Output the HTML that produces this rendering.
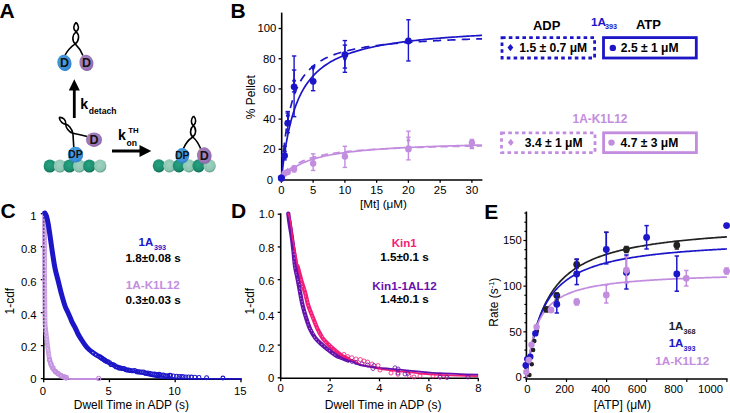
<!DOCTYPE html>
<html><head><meta charset="utf-8"><style>
html,body{margin:0;padding:0;background:#fff;}
svg{display:block;}
text{font-family:"Liberation Sans",sans-serif;}
</style></head><body>
<svg width="730" height="413" viewBox="0 0 730 413">
<defs>
<radialGradient id="gd" cx="45%" cy="40%" r="60%"><stop offset="0" stop-color="#27a282"/><stop offset="0.75" stop-color="#1a8d6e"/><stop offset="1" stop-color="#0d6a50"/></radialGradient>
<radialGradient id="gl" cx="45%" cy="40%" r="60%"><stop offset="0" stop-color="#9fd2c0"/><stop offset="0.75" stop-color="#8cc5b2"/><stop offset="1" stop-color="#5f9e8a"/></radialGradient>
<radialGradient id="gb" cx="45%" cy="40%" r="60%"><stop offset="0" stop-color="#4aa3e6"/><stop offset="0.8" stop-color="#3a8fd6"/><stop offset="1" stop-color="#2f7cc4"/></radialGradient>
<radialGradient id="gp" cx="45%" cy="40%" r="60%"><stop offset="0" stop-color="#a986c0"/><stop offset="0.8" stop-color="#9a74b4"/><stop offset="1" stop-color="#8762a2"/></radialGradient>
</defs>
<rect width="730" height="413" fill="#fff"/>
<text x="-0.5" y="17.8" font-size="21" font-weight="bold" text-anchor="start" fill="#000" >A</text>
<text x="230.6" y="17.8" font-size="21" font-weight="bold" text-anchor="start" fill="#000" >B</text>
<text x="0.4" y="218.4" font-size="21" font-weight="bold" text-anchor="start" fill="#000" >C</text>
<text x="231.0" y="218.4" font-size="21" font-weight="bold" text-anchor="start" fill="#000" >D</text>
<text x="484.3" y="218.7" font-size="21" font-weight="bold" text-anchor="start" fill="#000" >E</text>
<path d="M76.1,22.4 C73.4,25.2 72.6,29.3 76.1,31.9 C79.6,34.6 79.4,40.5 75.2,43.9 Q68.5,48.5 64.9,55.5" stroke="#000" stroke-width="1.6" fill="none" />
<path d="M76.1,22.4 C78.8,25.2 79.7,29.3 76.1,31.9 C72.3,34.6 71.6,40.5 75.2,43.9 Q80,48.5 82.9,55.5" stroke="#000" stroke-width="1.6" fill="none" />
<ellipse cx="64.4" cy="62.9" rx="7.0" ry="8.2" fill="url(#gb)" transform="rotate(-18 64.4 62.9)"/>
<text x="64.4" y="67.4" font-size="12.5" font-weight="bold" text-anchor="middle" fill="#111" >D</text>
<ellipse cx="86.4" cy="62.9" rx="7.0" ry="8.2" fill="url(#gp)" transform="rotate(-15 86.4 62.9)"/>
<text x="86.4" y="67.4" font-size="12.5" font-weight="bold" text-anchor="middle" fill="#111" >D</text>
<line x1="74.30" y1="118.00" x2="74.30" y2="89.00" stroke="#000" stroke-width="2.8" />
<path d="M68.8,90.4 L74.3,79.2 L79.8,90.4 Z" stroke="#000" stroke-width="0" fill="#000" />
<text x="80.3" y="108.6" font-size="14.2" font-weight="bold" text-anchor="start" fill="#000" >k</text>
<text x="88.8" y="113.6" font-size="8.6" font-weight="bold" text-anchor="start" fill="#000" >detach</text>
<ellipse cx="49.8" cy="166" rx="6.2" ry="6.6" fill="url(#gd)"/>
<ellipse cx="59.9" cy="166" rx="6.2" ry="6.6" fill="url(#gl)"/>
<ellipse cx="69.5" cy="166" rx="6.2" ry="6.6" fill="url(#gd)"/>
<ellipse cx="79.2" cy="166" rx="6.2" ry="6.6" fill="url(#gl)"/>
<ellipse cx="89.3" cy="166" rx="6.2" ry="6.6" fill="url(#gd)"/>
<ellipse cx="100.2" cy="166" rx="6.2" ry="6.6" fill="url(#gl)"/>
<path d="M59.2,117.4 C59.5,121.5 63.5,124.2 65.7,124.1 C68.2,124.3 71.7,128.5 72.9,133.2 L73.8,147.5" stroke="#000" stroke-width="1.6" fill="none" />
<path d="M59.2,117.4 C63.4,117 66.3,120.7 65.7,124.1 C65.6,127.2 68.8,132.2 72.9,133.2 Q80,134.4 87.2,136.4" stroke="#000" stroke-width="1.6" fill="none" />
<ellipse cx="94.0" cy="139.7" rx="8.0" ry="7.3" fill="url(#gp)" transform="rotate(0 94.0 139.7)"/>
<text x="94.0" y="144.2" font-size="12.5" font-weight="bold" text-anchor="middle" fill="#111" >D</text>
<ellipse cx="75.5" cy="154.6" rx="7.7" ry="7.9" fill="url(#gb)" transform="rotate(0 75.5 154.6)"/>
<text x="75.5" y="158.308" font-size="10.3" font-weight="bold" text-anchor="middle" fill="#111" >DP</text>
<line x1="112.00" y1="151.00" x2="141.00" y2="151.00" stroke="#000" stroke-width="3" />
<path d="M139.5,145 L151.3,151 L139.5,157 Z" stroke="#000" stroke-width="0" fill="#000" />
<text x="117.9" y="140.4" font-size="14.2" font-weight="bold" text-anchor="start" fill="#000" >k</text>
<text x="128.2" y="132.8" font-size="7.8" font-weight="bold" text-anchor="start" fill="#000" >TH</text>
<text x="126.6" y="145.5" font-size="8.6" font-weight="bold" text-anchor="start" fill="#000" >on</text>
<ellipse cx="158.9" cy="165.8" rx="6.2" ry="6.6" fill="url(#gd)"/>
<ellipse cx="169.4" cy="165.8" rx="6.2" ry="6.6" fill="url(#gl)"/>
<ellipse cx="178.9" cy="165.8" rx="6.2" ry="6.6" fill="url(#gd)"/>
<ellipse cx="189.0" cy="165.8" rx="6.2" ry="6.6" fill="url(#gl)"/>
<ellipse cx="198.6" cy="165.8" rx="6.2" ry="6.6" fill="url(#gd)"/>
<ellipse cx="209.6" cy="165.8" rx="6.2" ry="6.6" fill="url(#gl)"/>
<path d="M193.6,116 C191,118.8 190.4,123.3 193.3,125.7 C196.6,128.5 196.3,134.5 192.8,137.0 Q186.5,141 183.4,148.5" stroke="#000" stroke-width="1.6" fill="none" />
<path d="M193.6,116 C196.2,118.8 196.5,123.3 193.3,125.7 C189.9,128.5 189.6,134.5 192.8,137.0 Q197.5,141 200.7,148.8" stroke="#000" stroke-width="1.6" fill="none" />
<ellipse cx="182.3" cy="155.6" rx="7.0" ry="7.6" fill="url(#gb)" transform="rotate(0 182.3 155.6)"/>
<text x="182.3" y="159.308" font-size="10.3" font-weight="bold" text-anchor="middle" fill="#111" >DP</text>
<ellipse cx="204.3" cy="155.6" rx="7.3" ry="8.3" fill="url(#gp)" transform="rotate(-12 204.3 155.6)"/>
<text x="204.3" y="160.1" font-size="12.5" font-weight="bold" text-anchor="middle" fill="#111" >D</text>
<line x1="281.70" y1="12.60" x2="281.70" y2="180.80" stroke="#000" stroke-width="1.6" />
<line x1="280.50" y1="180.00" x2="482.40" y2="180.00" stroke="#000" stroke-width="1.6" />
<line x1="278.60" y1="179.50" x2="281.70" y2="179.50" stroke="#000" stroke-width="1.3" />
<text x="273.0" y="183.6" font-size="11.3" text-anchor="end" fill="#000" >0</text>
<line x1="278.60" y1="149.30" x2="281.70" y2="149.30" stroke="#000" stroke-width="1.3" />
<text x="275.5" y="153.4" font-size="11.3" text-anchor="end" fill="#000" >20</text>
<line x1="278.60" y1="119.10" x2="281.70" y2="119.10" stroke="#000" stroke-width="1.3" />
<text x="275.5" y="123.19999999999999" font-size="11.3" text-anchor="end" fill="#000" >40</text>
<line x1="278.60" y1="88.90" x2="281.70" y2="88.90" stroke="#000" stroke-width="1.3" />
<text x="275.5" y="93.0" font-size="11.3" text-anchor="end" fill="#000" >60</text>
<line x1="278.60" y1="58.70" x2="281.70" y2="58.70" stroke="#000" stroke-width="1.3" />
<text x="275.5" y="62.800000000000004" font-size="11.3" text-anchor="end" fill="#000" >80</text>
<line x1="278.60" y1="28.50" x2="281.70" y2="28.50" stroke="#000" stroke-width="1.3" />
<text x="276.4" y="31.5" font-size="11.3" text-anchor="end" fill="#000" >100</text>
<line x1="281.40" y1="180.00" x2="281.40" y2="182.80" stroke="#000" stroke-width="1.3" />
<text x="281.4" y="193.7" font-size="11.3" text-anchor="middle" fill="#000" >0</text>
<line x1="313.15" y1="180.00" x2="313.15" y2="182.80" stroke="#000" stroke-width="1.3" />
<text x="313.15" y="193.7" font-size="11.3" text-anchor="middle" fill="#000" >5</text>
<line x1="344.90" y1="180.00" x2="344.90" y2="182.80" stroke="#000" stroke-width="1.3" />
<text x="344.9" y="193.7" font-size="11.3" text-anchor="middle" fill="#000" >10</text>
<line x1="376.65" y1="180.00" x2="376.65" y2="182.80" stroke="#000" stroke-width="1.3" />
<text x="376.65" y="193.7" font-size="11.3" text-anchor="middle" fill="#000" >15</text>
<line x1="408.40" y1="180.00" x2="408.40" y2="182.80" stroke="#000" stroke-width="1.3" />
<text x="408.4" y="193.7" font-size="11.3" text-anchor="middle" fill="#000" >20</text>
<line x1="440.15" y1="180.00" x2="440.15" y2="182.80" stroke="#000" stroke-width="1.3" />
<text x="440.15" y="193.7" font-size="11.3" text-anchor="middle" fill="#000" >25</text>
<line x1="471.90" y1="180.00" x2="471.90" y2="182.80" stroke="#000" stroke-width="1.3" />
<text x="471.9" y="193.7" font-size="11.3" text-anchor="middle" fill="#000" >30</text>
<text x="383.4" y="208.4" font-size="11.7" text-anchor="middle" fill="#000" >[Mt] (μM)</text>
<text x="0" y="0" font-size="12" text-anchor="middle" fill="#000" transform="translate(254.6,97.2) rotate(-90)">% Pellet</text>
<path d="M281.40,179.50 L283.07,164.68 L284.74,152.44 L286.42,142.15 L288.09,133.40 L289.76,125.85 L291.43,119.27 L293.11,113.49 L294.78,108.37 L296.45,103.81 L298.12,99.72 L299.79,96.02 L301.47,92.67 L303.14,89.61 L304.81,86.82 L306.48,84.25 L308.15,81.89 L309.83,79.70 L311.50,77.68 L313.17,75.79 L314.84,74.03 L316.52,72.39 L318.19,70.85 L319.86,69.41 L321.53,68.05 L323.20,66.78 L324.88,65.57 L326.55,64.43 L328.22,63.35 L329.89,62.33 L331.56,61.36 L333.24,60.43 L334.91,59.55 L336.58,58.72 L338.25,57.92 L339.93,57.16 L341.60,56.43 L343.27,55.73 L344.94,55.06 L346.61,54.42 L348.29,53.80 L349.96,53.21 L351.63,52.64 L353.30,52.10 L354.98,51.57 L356.65,51.07 L358.32,50.58 L359.99,50.11 L361.66,49.65 L363.34,49.21 L365.01,48.79 L366.68,48.38 L368.35,47.98 L370.02,47.60 L371.70,47.23 L373.37,46.86 L375.04,46.51 L376.71,46.18 L378.39,45.85 L380.06,45.53 L381.73,45.22 L383.40,44.92 L385.07,44.62 L386.75,44.34 L388.42,44.06 L390.09,43.79 L391.76,43.53 L393.44,43.27 L395.11,43.02 L396.78,42.78 L398.45,42.54 L400.12,42.31 L401.80,42.09 L403.47,41.87 L405.14,41.65 L406.81,41.45 L408.48,41.24 L410.16,41.04 L411.83,40.85 L413.50,40.66 L415.17,40.47 L416.85,40.29 L418.52,40.11 L420.19,39.93 L421.86,39.76 L423.53,39.60 L425.21,39.43 L426.88,39.27 L428.55,39.12 L430.22,38.96 L431.89,38.81 L433.57,38.66 L435.24,38.52 L436.91,38.38 L438.58,38.24 L440.26,38.10 L441.93,37.97 L443.60,37.84 L445.27,37.71 L446.94,37.58 L448.62,37.46 L450.29,37.33 L451.96,37.21 L453.63,37.10 L455.31,36.98 L456.98,36.87 L458.65,36.75 L460.32,36.64 L461.99,36.54 L463.67,36.43 L465.34,36.33 L467.01,36.22 L468.68,36.12 L470.35,36.02 L472.03,35.93 L473.70,35.83 L475.37,35.74 L477.04,35.64 L478.72,35.55 L480.39,35.46 L482.06,35.37" stroke="#1c16c8" stroke-width="1.7" fill="none" />
<path d="M281.40,179.50 L283.07,157.49 L284.74,141.20 L286.42,128.66 L288.09,118.70 L289.76,110.61 L291.43,103.90 L293.11,98.24 L294.78,93.42 L296.45,89.25 L298.12,85.61 L299.79,82.40 L301.47,79.56 L303.14,77.03 L304.81,74.75 L306.48,72.69 L308.15,70.82 L309.83,69.11 L311.50,67.55 L313.17,66.12 L314.84,64.79 L316.52,63.57 L318.19,62.43 L319.86,61.38 L321.53,60.39 L323.20,59.47 L324.88,58.61 L326.55,57.80 L328.22,57.04 L329.89,56.32 L331.56,55.64 L333.24,55.00 L334.91,54.39 L336.58,53.82 L338.25,53.27 L339.93,52.75 L341.60,52.26 L343.27,51.79 L344.94,51.34 L346.61,50.91 L348.29,50.49 L349.96,50.10 L351.63,49.72 L353.30,49.36 L354.98,49.02 L356.65,48.68 L358.32,48.36 L359.99,48.05 L361.66,47.76 L363.34,47.47 L365.01,47.20 L366.68,46.93 L368.35,46.67 L370.02,46.43 L371.70,46.19 L373.37,45.95 L375.04,45.73 L376.71,45.51 L378.39,45.30 L380.06,45.10 L381.73,44.90 L383.40,44.71 L385.07,44.52 L386.75,44.34 L388.42,44.17 L390.09,44.00 L391.76,43.83 L393.44,43.67 L395.11,43.52 L396.78,43.36 L398.45,43.21 L400.12,43.07 L401.80,42.93 L403.47,42.79 L405.14,42.66 L406.81,42.53 L408.48,42.40 L410.16,42.28 L411.83,42.15 L413.50,42.04 L415.17,41.92 L416.85,41.81 L418.52,41.70 L420.19,41.59 L421.86,41.48 L423.53,41.38 L425.21,41.28 L426.88,41.18 L428.55,41.08 L430.22,40.99 L431.89,40.90 L433.57,40.81 L435.24,40.72 L436.91,40.63 L438.58,40.54 L440.26,40.46 L441.93,40.38 L443.60,40.30 L445.27,40.22 L446.94,40.14 L448.62,40.07 L450.29,39.99 L451.96,39.92 L453.63,39.85 L455.31,39.78 L456.98,39.71 L458.65,39.64 L460.32,39.57 L461.99,39.51 L463.67,39.44 L465.34,39.38 L467.01,39.32 L468.68,39.26 L470.35,39.20 L472.03,39.14 L473.70,39.08 L475.37,39.02 L477.04,38.97 L478.72,38.91 L480.39,38.86 L482.06,38.80" stroke="#1c16c8" stroke-width="1.7" fill="none" stroke-dasharray="8.2,6.2"/>
<path d="M281.40,179.50 L283.07,177.40 L284.74,175.51 L286.42,173.81 L288.09,172.26 L289.76,170.84 L291.43,169.55 L293.11,168.35 L294.78,167.26 L296.45,166.24 L298.12,165.29 L299.79,164.41 L301.47,163.59 L303.14,162.83 L304.81,162.11 L306.48,161.43 L308.15,160.80 L309.83,160.20 L311.50,159.64 L313.17,159.10 L314.84,158.59 L316.52,158.11 L318.19,157.66 L319.86,157.22 L321.53,156.81 L323.20,156.42 L324.88,156.04 L326.55,155.68 L328.22,155.34 L329.89,155.01 L331.56,154.70 L333.24,154.39 L334.91,154.10 L336.58,153.82 L338.25,153.56 L339.93,153.30 L341.60,153.05 L343.27,152.81 L344.94,152.58 L346.61,152.36 L348.29,152.14 L349.96,151.94 L351.63,151.74 L353.30,151.54 L354.98,151.35 L356.65,151.17 L358.32,151.00 L359.99,150.83 L361.66,150.66 L363.34,150.50 L365.01,150.35 L366.68,150.19 L368.35,150.05 L370.02,149.90 L371.70,149.77 L373.37,149.63 L375.04,149.50 L376.71,149.37 L378.39,149.25 L380.06,149.13 L381.73,149.01 L383.40,148.89 L385.07,148.78 L386.75,148.67 L388.42,148.57 L390.09,148.46 L391.76,148.36 L393.44,148.26 L395.11,148.16 L396.78,148.07 L398.45,147.98 L400.12,147.89 L401.80,147.80 L403.47,147.71 L405.14,147.63 L406.81,147.54 L408.48,147.46 L410.16,147.38 L411.83,147.30 L413.50,147.23 L415.17,147.15 L416.85,147.08 L418.52,147.01 L420.19,146.94 L421.86,146.87 L423.53,146.80 L425.21,146.74 L426.88,146.67 L428.55,146.61 L430.22,146.55 L431.89,146.49 L433.57,146.43 L435.24,146.37 L436.91,146.31 L438.58,146.25 L440.26,146.20 L441.93,146.14 L443.60,146.09 L445.27,146.03 L446.94,145.98 L448.62,145.93 L450.29,145.88 L451.96,145.83 L453.63,145.78 L455.31,145.73 L456.98,145.69 L458.65,145.64 L460.32,145.59 L461.99,145.55 L463.67,145.50 L465.34,145.46 L467.01,145.42 L468.68,145.38 L470.35,145.33 L472.03,145.29 L473.70,145.25 L475.37,145.21 L477.04,145.17 L478.72,145.14 L480.39,145.10 L482.06,145.06" stroke="#c38ddf" stroke-width="1.7" fill="none" />
<path d="M281.40,179.50 L283.07,176.83 L284.74,174.52 L286.42,172.50 L288.09,170.71 L289.76,169.13 L291.43,167.71 L293.11,166.44 L294.78,165.29 L296.45,164.24 L298.12,163.29 L299.79,162.41 L301.47,161.61 L303.14,160.86 L304.81,160.18 L306.48,159.54 L308.15,158.94 L309.83,158.39 L311.50,157.87 L313.17,157.38 L314.84,156.93 L316.52,156.50 L318.19,156.09 L319.86,155.71 L321.53,155.35 L323.20,155.00 L324.88,154.68 L326.55,154.37 L328.22,154.08 L329.89,153.80 L331.56,153.53 L333.24,153.28 L334.91,153.03 L336.58,152.80 L338.25,152.58 L339.93,152.36 L341.60,152.16 L343.27,151.96 L344.94,151.77 L346.61,151.59 L348.29,151.42 L349.96,151.25 L351.63,151.09 L353.30,150.93 L354.98,150.78 L356.65,150.64 L358.32,150.50 L359.99,150.36 L361.66,150.23 L363.34,150.10 L365.01,149.98 L366.68,149.86 L368.35,149.74 L370.02,149.63 L371.70,149.52 L373.37,149.42 L375.04,149.31 L376.71,149.21 L378.39,149.12 L380.06,149.02 L381.73,148.93 L383.40,148.84 L385.07,148.76 L386.75,148.67 L388.42,148.59 L390.09,148.51 L391.76,148.43 L393.44,148.36 L395.11,148.28 L396.78,148.21 L398.45,148.14 L400.12,148.07 L401.80,148.00 L403.47,147.94 L405.14,147.87 L406.81,147.81 L408.48,147.75 L410.16,147.69 L411.83,147.63 L413.50,147.57 L415.17,147.52 L416.85,147.46 L418.52,147.41 L420.19,147.35 L421.86,147.30 L423.53,147.25 L425.21,147.20 L426.88,147.15 L428.55,147.11 L430.22,147.06 L431.89,147.01 L433.57,146.97 L435.24,146.93 L436.91,146.88 L438.58,146.84 L440.26,146.80 L441.93,146.76 L443.60,146.72 L445.27,146.68 L446.94,146.64 L448.62,146.60 L450.29,146.56 L451.96,146.53 L453.63,146.49 L455.31,146.46 L456.98,146.42 L458.65,146.39 L460.32,146.35 L461.99,146.32 L463.67,146.29 L465.34,146.26 L467.01,146.22 L468.68,146.19 L470.35,146.16 L472.03,146.13 L473.70,146.10 L475.37,146.07 L477.04,146.05 L478.72,146.02 L480.39,145.99 L482.06,145.96" stroke="#c38ddf" stroke-width="1.7" fill="none" stroke-dasharray="7,5"/>
<circle cx="281.40" cy="177.99" r="3.4" fill="#1c16c8"/>
<line x1="284.57" y1="151.56" x2="284.57" y2="159.87" stroke="#1c16c8" stroke-width="1.4" />
<line x1="282.38" y1="151.56" x2="286.77" y2="151.56" stroke="#1c16c8" stroke-width="1.4" />
<line x1="282.38" y1="159.87" x2="286.77" y2="159.87" stroke="#1c16c8" stroke-width="1.4" />
<circle cx="284.57" cy="155.64" r="3.4" fill="#1c16c8"/>
<line x1="287.75" y1="111.55" x2="287.75" y2="132.69" stroke="#1c16c8" stroke-width="1.4" />
<line x1="285.55" y1="111.55" x2="289.95" y2="111.55" stroke="#1c16c8" stroke-width="1.4" />
<line x1="285.55" y1="132.69" x2="289.95" y2="132.69" stroke="#1c16c8" stroke-width="1.4" />
<circle cx="287.75" cy="123.18" r="3.4" fill="#1c16c8"/>
<line x1="294.10" y1="55.98" x2="294.10" y2="116.68" stroke="#1c16c8" stroke-width="1.4" />
<line x1="291.90" y1="55.98" x2="296.30" y2="55.98" stroke="#1c16c8" stroke-width="1.4" />
<line x1="291.90" y1="116.68" x2="296.30" y2="116.68" stroke="#1c16c8" stroke-width="1.4" />
<circle cx="294.10" cy="86.79" r="3.4" fill="#1c16c8"/>
<line x1="313.15" y1="66.55" x2="313.15" y2="90.71" stroke="#1c16c8" stroke-width="1.4" />
<line x1="310.95" y1="66.55" x2="315.35" y2="66.55" stroke="#1c16c8" stroke-width="1.4" />
<line x1="310.95" y1="90.71" x2="315.35" y2="90.71" stroke="#1c16c8" stroke-width="1.4" />
<circle cx="313.15" cy="81.35" r="3.4" fill="#1c16c8"/>
<line x1="344.90" y1="40.58" x2="344.90" y2="72.29" stroke="#1c16c8" stroke-width="1.4" />
<line x1="342.70" y1="40.58" x2="347.10" y2="40.58" stroke="#1c16c8" stroke-width="1.4" />
<line x1="342.70" y1="72.29" x2="347.10" y2="72.29" stroke="#1c16c8" stroke-width="1.4" />
<circle cx="344.90" cy="54.77" r="3.4" fill="#1c16c8"/>
<line x1="408.40" y1="19.74" x2="408.40" y2="60.97" stroke="#1c16c8" stroke-width="1.4" />
<line x1="406.20" y1="19.74" x2="410.60" y2="19.74" stroke="#1c16c8" stroke-width="1.4" />
<line x1="406.20" y1="60.97" x2="410.60" y2="60.97" stroke="#1c16c8" stroke-width="1.4" />
<circle cx="408.40" cy="40.88" r="3.4" fill="#1c16c8"/>
<line x1="284.57" y1="146.28" x2="284.57" y2="153.83" stroke="#1c16c8" stroke-width="1.4" />
<line x1="282.38" y1="146.28" x2="286.77" y2="146.28" stroke="#1c16c8" stroke-width="1.4" />
<line x1="282.38" y1="153.83" x2="286.77" y2="153.83" stroke="#1c16c8" stroke-width="1.4" />
<path d="M284.57,146.94 L286.65,150.06 L284.57,153.18 L282.50,150.06 Z" fill="#1c16c8"/>
<line x1="287.75" y1="113.06" x2="287.75" y2="122.12" stroke="#1c16c8" stroke-width="1.4" />
<line x1="285.55" y1="113.06" x2="289.95" y2="113.06" stroke="#1c16c8" stroke-width="1.4" />
<line x1="285.55" y1="122.12" x2="289.95" y2="122.12" stroke="#1c16c8" stroke-width="1.4" />
<path d="M287.75,112.51 L289.83,115.63 L287.75,118.75 L285.67,115.63 Z" fill="#1c16c8"/>
<line x1="294.10" y1="70.03" x2="294.10" y2="91.92" stroke="#1c16c8" stroke-width="1.4" />
<line x1="291.90" y1="70.03" x2="296.30" y2="70.03" stroke="#1c16c8" stroke-width="1.4" />
<line x1="291.90" y1="91.92" x2="296.30" y2="91.92" stroke="#1c16c8" stroke-width="1.4" />
<path d="M294.10,77.63 L296.18,80.75 L294.10,83.87 L292.02,80.75 Z" fill="#1c16c8"/>
<path d="M313.15,64.64 L315.23,67.76 L313.15,70.88 L311.07,67.76 Z" fill="#1c16c8"/>
<line x1="344.90" y1="45.11" x2="344.90" y2="68.06" stroke="#1c16c8" stroke-width="1.4" />
<line x1="342.70" y1="45.11" x2="347.10" y2="45.11" stroke="#1c16c8" stroke-width="1.4" />
<line x1="342.70" y1="68.06" x2="347.10" y2="68.06" stroke="#1c16c8" stroke-width="1.4" />
<path d="M344.90,55.58 L346.98,58.70 L344.90,61.82 L342.82,58.70 Z" fill="#1c16c8"/>
<path d="M408.40,38.97 L410.48,42.09 L408.40,45.21 L406.32,42.09 Z" fill="#1c16c8"/>
<circle cx="281.40" cy="177.99" r="3.2" fill="#c38ddf"/>
<circle cx="284.57" cy="173.46" r="3.2" fill="#c38ddf"/>
<circle cx="287.75" cy="171.95" r="3.2" fill="#c38ddf"/>
<line x1="294.10" y1="165.91" x2="294.10" y2="171.95" stroke="#c38ddf" stroke-width="1.4" />
<line x1="291.90" y1="165.91" x2="296.30" y2="165.91" stroke="#c38ddf" stroke-width="1.4" />
<line x1="291.90" y1="171.95" x2="296.30" y2="171.95" stroke="#c38ddf" stroke-width="1.4" />
<circle cx="294.10" cy="168.93" r="3.2" fill="#c38ddf"/>
<line x1="313.15" y1="153.83" x2="313.15" y2="170.44" stroke="#c38ddf" stroke-width="1.4" />
<line x1="310.95" y1="153.83" x2="315.35" y2="153.83" stroke="#c38ddf" stroke-width="1.4" />
<line x1="310.95" y1="170.44" x2="315.35" y2="170.44" stroke="#c38ddf" stroke-width="1.4" />
<circle cx="313.15" cy="163.49" r="3.2" fill="#c38ddf"/>
<line x1="344.90" y1="146.28" x2="344.90" y2="167.42" stroke="#c38ddf" stroke-width="1.4" />
<line x1="342.70" y1="146.28" x2="347.10" y2="146.28" stroke="#c38ddf" stroke-width="1.4" />
<line x1="342.70" y1="167.42" x2="347.10" y2="167.42" stroke="#c38ddf" stroke-width="1.4" />
<circle cx="344.90" cy="156.55" r="3.2" fill="#c38ddf"/>
<line x1="408.40" y1="131.18" x2="408.40" y2="159.87" stroke="#c38ddf" stroke-width="1.4" />
<line x1="406.20" y1="131.18" x2="410.60" y2="131.18" stroke="#c38ddf" stroke-width="1.4" />
<line x1="406.20" y1="159.87" x2="410.60" y2="159.87" stroke="#c38ddf" stroke-width="1.4" />
<circle cx="408.40" cy="149.15" r="3.2" fill="#c38ddf"/>
<line x1="471.90" y1="139.49" x2="471.90" y2="148.54" stroke="#c38ddf" stroke-width="1.4" />
<line x1="469.70" y1="139.49" x2="474.10" y2="139.49" stroke="#c38ddf" stroke-width="1.4" />
<line x1="469.70" y1="148.54" x2="474.10" y2="148.54" stroke="#c38ddf" stroke-width="1.4" />
<circle cx="471.90" cy="142.81" r="3.2" fill="#c38ddf"/>
<path d="M284.57,169.71 L286.57,172.71 L284.57,175.71 L282.57,172.71 Z" fill="#c38ddf"/>
<path d="M287.75,167.44 L289.75,170.44 L287.75,173.44 L285.75,170.44 Z" fill="#c38ddf"/>
<path d="M294.10,164.42 L296.10,167.42 L294.10,170.42 L292.10,167.42 Z" fill="#c38ddf"/>
<path d="M313.15,156.42 L315.15,159.42 L313.15,162.42 L311.15,159.42 Z" fill="#c38ddf"/>
<path d="M344.90,150.83 L346.90,153.83 L344.90,156.83 L342.90,153.83 Z" fill="#c38ddf"/>
<line x1="408.40" y1="137.22" x2="408.40" y2="146.28" stroke="#c38ddf" stroke-width="1.4" />
<line x1="406.20" y1="137.22" x2="410.60" y2="137.22" stroke="#c38ddf" stroke-width="1.4" />
<line x1="406.20" y1="146.28" x2="410.60" y2="146.28" stroke="#c38ddf" stroke-width="1.4" />
<path d="M408.40,137.24 L410.40,140.24 L408.40,143.24 L406.40,140.24 Z" fill="#c38ddf"/>
<line x1="471.90" y1="141.75" x2="471.90" y2="147.79" stroke="#c38ddf" stroke-width="1.4" />
<line x1="469.70" y1="141.75" x2="474.10" y2="141.75" stroke="#c38ddf" stroke-width="1.4" />
<line x1="469.70" y1="147.79" x2="474.10" y2="147.79" stroke="#c38ddf" stroke-width="1.4" />
<path d="M471.90,142.68 L473.90,145.68 L471.90,148.68 L469.90,145.68 Z" fill="#c38ddf"/>
<circle cx="281.40" cy="177.99" r="3.6" fill="#1c16c8"/>
<text x="546.7" y="29.5" font-size="13" font-weight="bold" text-anchor="middle" fill="#000" >ADP</text>
<text x="648.4" y="29.3" font-size="13" font-weight="bold" text-anchor="middle" fill="#000" >ATP</text>
<text x="590.9" y="25.8" font-size="11.8" font-weight="bold" text-anchor="start" fill="#1c16c8" >1A</text>
<text x="605.0" y="28.9" font-size="7.2" font-weight="bold" text-anchor="start" fill="#1c16c8" >393</text>
<rect x="502" y="37.6" width="92.6" height="20.4" fill="none" stroke="#1c16c8" stroke-width="2.8" stroke-dasharray="3.6,3.2"/>
<rect x="603.5" y="37.6" width="92.8" height="20.4" fill="none" stroke="#1c16c8" stroke-width="2.8"/>
<path d="M510.4,43.9 L513.3,47.6 L510.4,51.3 L507.5,47.6 Z" fill="#1c16c8"/>
<text x="519.3" y="51.8" font-size="12.1" font-weight="bold" text-anchor="start" fill="#000" >1.5 ± 0.7 μM</text>
<circle cx="612.80" cy="47.90" r="3.2" fill="#1c16c8"/>
<text x="620.8" y="51.9" font-size="12.1" font-weight="bold" text-anchor="start" fill="#000" >2.5 ± 1 μM</text>
<text x="600" y="122.8" font-size="11.9" font-weight="bold" text-anchor="middle" fill="#c38ddf" >1A-K1L12</text>
<rect x="501.5" y="132.8" width="93.5" height="19.8" fill="none" stroke="#c38ddf" stroke-width="2.8" stroke-dasharray="3.6,3.2"/>
<rect x="603.6" y="132.8" width="92.8" height="19.8" fill="none" stroke="#c38ddf" stroke-width="2.8"/>
<path d="M510.8,138.7 L513.7,142.4 L510.8,146.1 L507.9,142.4 Z" fill="#c38ddf"/>
<text x="524.8" y="146.6" font-size="12.1" font-weight="bold" text-anchor="start" fill="#000" >3.4 ± 1 μM</text>
<circle cx="611.50" cy="142.60" r="3.2" fill="#c38ddf"/>
<text x="620.6" y="146.6" font-size="12.1" font-weight="bold" text-anchor="start" fill="#000" >4.7 ± 3 μM</text>
<line x1="43.80" y1="212.80" x2="43.80" y2="379.90" stroke="#000" stroke-width="1.6" />
<line x1="43.00" y1="379.10" x2="241.80" y2="379.10" stroke="#000" stroke-width="1.6" />
<line x1="40.80" y1="378.60" x2="43.80" y2="378.60" stroke="#000" stroke-width="1.3" />
<text x="36.6" y="383.25" font-size="11.3" text-anchor="end" fill="#000" >0</text>
<line x1="40.80" y1="345.62" x2="43.80" y2="345.62" stroke="#000" stroke-width="1.3" />
<text x="36.6" y="351.15000000000003" font-size="11.3" text-anchor="end" fill="#000" >0.2</text>
<line x1="40.80" y1="312.64" x2="43.80" y2="312.64" stroke="#000" stroke-width="1.3" />
<text x="36.6" y="318.85" font-size="11.3" text-anchor="end" fill="#000" >0.4</text>
<line x1="40.80" y1="279.66" x2="43.80" y2="279.66" stroke="#000" stroke-width="1.3" />
<text x="36.6" y="286.35" font-size="11.3" text-anchor="end" fill="#000" >0.6</text>
<line x1="40.80" y1="246.68" x2="43.80" y2="246.68" stroke="#000" stroke-width="1.3" />
<text x="36.6" y="252.85000000000002" font-size="11.3" text-anchor="end" fill="#000" >0.8</text>
<line x1="40.80" y1="213.70" x2="43.80" y2="213.70" stroke="#000" stroke-width="1.3" />
<text x="36.6" y="219.75" font-size="11.3" text-anchor="end" fill="#000" >1</text>
<line x1="43.70" y1="379.10" x2="43.70" y2="382.20" stroke="#000" stroke-width="1.3" />
<text x="43.0" y="395.0" font-size="11.3" text-anchor="middle" fill="#000" >0</text>
<line x1="109.45" y1="379.10" x2="109.45" y2="382.20" stroke="#000" stroke-width="1.3" />
<text x="108.75" y="395.0" font-size="11.3" text-anchor="middle" fill="#000" >5</text>
<line x1="175.20" y1="379.10" x2="175.20" y2="382.20" stroke="#000" stroke-width="1.3" />
<text x="174.5" y="395.0" font-size="11.3" text-anchor="middle" fill="#000" >10</text>
<line x1="240.95" y1="379.10" x2="240.95" y2="382.20" stroke="#000" stroke-width="1.3" />
<text x="240.25" y="395.0" font-size="11.3" text-anchor="middle" fill="#000" >15</text>
<text x="131.4" y="409.4" font-size="11.95" text-anchor="middle" fill="#000" >Dwell Time in ADP (s)</text>
<text x="0" y="0" font-size="12" text-anchor="middle" fill="#000" transform="translate(13.9,301.2) rotate(-90)">1-cdf</text>
<path d="M44.50,213.20 C44.52,224.33 44.52,262.20 44.60,280.00 C44.68,297.80 44.82,311.67 45.00,320.00 C45.18,328.33 45.32,326.12 45.70,330.00 C46.08,333.88 46.75,338.85 47.30,343.30 C47.85,347.75 48.47,353.50 49.00,356.70 C49.53,359.90 50.00,360.73 50.50,362.50 C51.00,364.27 51.33,365.88 52.00,367.30 C52.67,368.72 53.67,370.02 54.50,371.00 C55.33,371.98 56.17,372.57 57.00,373.20 C57.83,373.83 58.58,374.23 59.50,374.80 C60.42,375.37 61.42,376.03 62.50,376.60 C63.58,377.17 65.42,377.93 66.00,378.20" stroke="#c9a0e3" stroke-width="4.8" fill="none" stroke-linejoin="round" stroke-linecap="round"/>
<path d="M62.50,376.60 L66.00,378.20 L70.00,379.00 L98.70,379.00" stroke="#c38ddf" stroke-width="1.8" fill="none" />
<circle cx="49.5" cy="360" r="2.1" fill="none" stroke="#c38ddf" stroke-width="1.1"/>
<circle cx="51" cy="364" r="2.1" fill="none" stroke="#c38ddf" stroke-width="1.1"/>
<circle cx="53" cy="368" r="2.1" fill="none" stroke="#c38ddf" stroke-width="1.1"/>
<circle cx="55.5" cy="371.5" r="2.1" fill="none" stroke="#c38ddf" stroke-width="1.1"/>
<circle cx="58" cy="373.5" r="2.1" fill="none" stroke="#c38ddf" stroke-width="1.1"/>
<circle cx="61" cy="375.5" r="2.1" fill="none" stroke="#c38ddf" stroke-width="1.1"/>
<circle cx="64" cy="376.7" r="2.1" fill="none" stroke="#c38ddf" stroke-width="1.1"/>
<circle cx="66.3" cy="377.5" r="2.1" fill="none" stroke="#c38ddf" stroke-width="1.1"/>
<circle cx="98.7" cy="378.4" r="2.1" fill="none" stroke="#c38ddf" stroke-width="1.1"/>
<circle cx="45.35" cy="216.06" r="0.6" fill="#fff" opacity="0.6"/>
<circle cx="45.82" cy="218.97" r="0.6" fill="#fff" opacity="0.6"/>
<circle cx="45.41" cy="222.09" r="0.6" fill="#fff" opacity="0.6"/>
<circle cx="45.08" cy="225.01" r="0.6" fill="#fff" opacity="0.6"/>
<circle cx="45.53" cy="228.29" r="0.6" fill="#fff" opacity="0.6"/>
<circle cx="44.99" cy="230.80" r="0.6" fill="#fff" opacity="0.6"/>
<circle cx="44.99" cy="234.31" r="0.6" fill="#fff" opacity="0.6"/>
<circle cx="45.59" cy="236.54" r="0.6" fill="#fff" opacity="0.6"/>
<circle cx="45.88" cy="240.46" r="0.6" fill="#fff" opacity="0.6"/>
<circle cx="45.55" cy="243.12" r="0.6" fill="#fff" opacity="0.6"/>
<circle cx="45.06" cy="245.52" r="0.6" fill="#fff" opacity="0.6"/>
<circle cx="45.43" cy="248.56" r="0.6" fill="#fff" opacity="0.6"/>
<circle cx="45.09" cy="251.74" r="0.6" fill="#fff" opacity="0.6"/>
<circle cx="44.93" cy="254.96" r="0.6" fill="#fff" opacity="0.6"/>
<circle cx="45.34" cy="258.34" r="0.6" fill="#fff" opacity="0.6"/>
<circle cx="45.42" cy="261.14" r="0.6" fill="#fff" opacity="0.6"/>
<circle cx="45.40" cy="264.16" r="0.6" fill="#fff" opacity="0.6"/>
<circle cx="45.36" cy="266.78" r="0.6" fill="#fff" opacity="0.6"/>
<circle cx="45.90" cy="270.50" r="0.6" fill="#fff" opacity="0.6"/>
<circle cx="45.74" cy="273.21" r="0.6" fill="#fff" opacity="0.6"/>
<circle cx="45.22" cy="275.73" r="0.6" fill="#fff" opacity="0.6"/>
<circle cx="45.19" cy="278.57" r="0.6" fill="#fff" opacity="0.6"/>
<circle cx="45.67" cy="281.90" r="0.6" fill="#fff" opacity="0.6"/>
<circle cx="45.75" cy="284.89" r="0.6" fill="#fff" opacity="0.6"/>
<circle cx="45.86" cy="288.35" r="0.6" fill="#fff" opacity="0.6"/>
<circle cx="44.90" cy="290.71" r="0.6" fill="#fff" opacity="0.6"/>
<circle cx="45.81" cy="293.97" r="0.6" fill="#fff" opacity="0.6"/>
<circle cx="45.88" cy="296.90" r="0.6" fill="#fff" opacity="0.6"/>
<circle cx="44.97" cy="300.13" r="0.6" fill="#fff" opacity="0.6"/>
<circle cx="45.73" cy="302.77" r="0.6" fill="#fff" opacity="0.6"/>
<circle cx="45.09" cy="305.83" r="0.6" fill="#fff" opacity="0.6"/>
<circle cx="46.01" cy="309.26" r="0.6" fill="#fff" opacity="0.6"/>
<circle cx="45.22" cy="311.74" r="0.6" fill="#fff" opacity="0.6"/>
<circle cx="45.25" cy="314.56" r="0.6" fill="#fff" opacity="0.6"/>
<circle cx="46.00" cy="317.68" r="0.6" fill="#fff" opacity="0.6"/>
<circle cx="45.81" cy="320.94" r="0.6" fill="#fff" opacity="0.6"/>
<circle cx="45.49" cy="324.23" r="0.6" fill="#fff" opacity="0.6"/>
<circle cx="45.48" cy="327.14" r="0.6" fill="#fff" opacity="0.6"/>
<circle cx="45.52" cy="329.92" r="0.6" fill="#fff" opacity="0.6"/>
<circle cx="45.97" cy="332.74" r="0.6" fill="#fff" opacity="0.6"/>
<circle cx="47.09" cy="336.26" r="0.6" fill="#fff" opacity="0.6"/>
<circle cx="46.78" cy="339.32" r="0.6" fill="#fff" opacity="0.6"/>
<circle cx="47.04" cy="341.80" r="0.6" fill="#fff" opacity="0.6"/>
<circle cx="48.06" cy="345.03" r="0.6" fill="#fff" opacity="0.6"/>
<circle cx="47.68" cy="348.35" r="0.6" fill="#fff" opacity="0.6"/>
<circle cx="48.17" cy="350.60" r="0.6" fill="#fff" opacity="0.6"/>
<circle cx="49.11" cy="353.64" r="0.6" fill="#fff" opacity="0.6"/>
<circle cx="49.02" cy="356.36" r="0.6" fill="#fff" opacity="0.6"/>
<circle cx="49.64" cy="359.76" r="0.6" fill="#fff" opacity="0.6"/>
<circle cx="50.62" cy="362.66" r="0.6" fill="#fff" opacity="0.6"/>
<circle cx="51.57" cy="365.40" r="0.6" fill="#fff" opacity="0.6"/>
<line x1="43.80" y1="213.50" x2="43.80" y2="345.00" stroke="#111" stroke-width="1.1" opacity="0.75" stroke-dasharray="2,1.6"/>
<path d="M100.00,357.50 L110.00,363.60 L125.00,369.20 L140.00,373.50 L150.00,375.80 L160.00,377.90 L175.00,378.70 L241.50,378.90" stroke="#1c16c8" stroke-width="1.7" fill="none" />
<path d="M44.80,213.00 C45.08,213.55 45.92,214.38 46.50,216.30 C47.08,218.22 47.63,220.70 48.30,224.50 C48.97,228.30 49.78,234.25 50.50,239.10 C51.22,243.95 51.85,248.75 52.60,253.60 C53.35,258.45 54.02,263.45 55.00,268.20 C55.98,272.95 57.42,277.77 58.50,282.10 C59.58,286.43 60.40,290.17 61.50,294.20 C62.60,298.23 64.10,303.42 65.10,306.30 C66.10,309.18 66.58,309.48 67.50,311.50 C68.42,313.52 69.83,316.63 70.60,318.40 C71.37,320.17 71.28,320.42 72.10,322.10 C72.92,323.78 74.48,326.48 75.50,328.50 C76.52,330.52 77.12,332.20 78.20,334.20 C79.28,336.20 80.70,338.48 82.00,340.50 C83.30,342.52 84.83,344.80 86.00,346.30 C87.17,347.80 87.88,348.48 89.00,349.50 C90.12,350.52 91.37,351.43 92.70,352.40 C94.03,353.37 95.58,354.40 97.00,355.30 C98.42,356.20 99.87,356.97 101.20,357.80 C102.53,358.63 104.37,359.88 105.00,360.30" stroke="#1c16c8" stroke-width="5.0" fill="none" stroke-linecap="round" stroke-linejoin="round"/>
<circle cx="92.85" cy="352.69" r="0.65" fill="#fff" opacity="0.8"/>
<circle cx="95.71" cy="354.72" r="0.65" fill="#fff" opacity="0.8"/>
<circle cx="98.33" cy="356.43" r="0.65" fill="#fff" opacity="0.8"/>
<circle cx="100.23" cy="357.52" r="0.65" fill="#fff" opacity="0.8"/>
<circle cx="104.01" cy="359.48" r="0.65" fill="#fff" opacity="0.8"/>
<circle cx="106.63" cy="360.59" r="0.65" fill="#fff" opacity="0.8"/>
<circle cx="108.78" cy="362.52" r="0.65" fill="#fff" opacity="0.8"/>
<circle cx="111.68" cy="364.42" r="0.65" fill="#fff" opacity="0.8"/>
<circle cx="113.96" cy="365.31" r="0.65" fill="#fff" opacity="0.8"/>
<circle cx="117.20" cy="367.47" r="0.65" fill="#fff" opacity="0.8"/>
<circle cx="120.83" cy="367.51" r="0.65" fill="#fff" opacity="0.8"/>
<circle cx="123.95" cy="368.32" r="0.65" fill="#fff" opacity="0.8"/>
<circle cx="126.84" cy="369.08" r="0.65" fill="#fff" opacity="0.8"/>
<circle cx="129.25" cy="370.55" r="0.65" fill="#fff" opacity="0.8"/>
<circle cx="132.65" cy="370.35" r="0.65" fill="#fff" opacity="0.8"/>
<circle cx="136.72" cy="371.70" r="0.65" fill="#fff" opacity="0.8"/>
<circle cx="139.04" cy="372.37" r="0.65" fill="#fff" opacity="0.8"/>
<circle cx="142.49" cy="372.57" r="0.65" fill="#fff" opacity="0.8"/>
<circle cx="145.27" cy="373.31" r="0.65" fill="#fff" opacity="0.8"/>
<circle cx="149.02" cy="373.76" r="0.65" fill="#fff" opacity="0.8"/>
<circle cx="152.44" cy="373.37" r="0.65" fill="#fff" opacity="0.8"/>
<circle cx="154.97" cy="373.61" r="0.65" fill="#fff" opacity="0.8"/>
<circle cx="157.89" cy="373.89" r="0.65" fill="#fff" opacity="0.8"/>
<circle cx="161.25" cy="374.92" r="0.65" fill="#fff" opacity="0.8"/>
<circle cx="164.07" cy="375.38" r="0.65" fill="#fff" opacity="0.8"/>
<circle cx="100.00" cy="356.82" r="1.9" fill="none" stroke="#1c16c8" stroke-width="1.3"/>
<circle cx="101.60" cy="358.11" r="1.9" fill="none" stroke="#1c16c8" stroke-width="1.3"/>
<circle cx="103.20" cy="358.99" r="1.9" fill="none" stroke="#1c16c8" stroke-width="1.3"/>
<circle cx="104.80" cy="360.27" r="1.9" fill="none" stroke="#1c16c8" stroke-width="1.3"/>
<circle cx="106.40" cy="361.35" r="1.9" fill="none" stroke="#1c16c8" stroke-width="1.3"/>
<circle cx="108.00" cy="361.85" r="1.9" fill="none" stroke="#1c16c8" stroke-width="1.3"/>
<circle cx="109.60" cy="362.85" r="1.9" fill="none" stroke="#1c16c8" stroke-width="1.3"/>
<circle cx="111.20" cy="364.48" r="1.9" fill="none" stroke="#1c16c8" stroke-width="1.3"/>
<circle cx="112.80" cy="364.62" r="1.9" fill="none" stroke="#1c16c8" stroke-width="1.3"/>
<circle cx="114.40" cy="365.32" r="1.9" fill="none" stroke="#1c16c8" stroke-width="1.3"/>
<circle cx="116.00" cy="366.80" r="1.9" fill="none" stroke="#1c16c8" stroke-width="1.3"/>
<circle cx="117.60" cy="367.00" r="1.9" fill="none" stroke="#1c16c8" stroke-width="1.3"/>
<circle cx="119.20" cy="367.91" r="1.9" fill="none" stroke="#1c16c8" stroke-width="1.3"/>
<circle cx="120.80" cy="367.98" r="1.9" fill="none" stroke="#1c16c8" stroke-width="1.3"/>
<circle cx="122.40" cy="368.57" r="1.9" fill="none" stroke="#1c16c8" stroke-width="1.3"/>
<circle cx="124.00" cy="368.51" r="1.9" fill="none" stroke="#1c16c8" stroke-width="1.3"/>
<circle cx="125.60" cy="369.43" r="1.9" fill="none" stroke="#1c16c8" stroke-width="1.3"/>
<circle cx="127.20" cy="369.99" r="1.9" fill="none" stroke="#1c16c8" stroke-width="1.3"/>
<circle cx="128.80" cy="369.94" r="1.9" fill="none" stroke="#1c16c8" stroke-width="1.3"/>
<circle cx="130.40" cy="370.45" r="1.9" fill="none" stroke="#1c16c8" stroke-width="1.3"/>
<circle cx="132.60" cy="370.79" r="1.9" fill="none" stroke="#1c16c8" stroke-width="1.3"/>
<circle cx="134.80" cy="370.58" r="1.9" fill="none" stroke="#1c16c8" stroke-width="1.3"/>
<circle cx="137.00" cy="371.67" r="1.9" fill="none" stroke="#1c16c8" stroke-width="1.3"/>
<circle cx="139.20" cy="371.89" r="1.9" fill="none" stroke="#1c16c8" stroke-width="1.3"/>
<circle cx="141.40" cy="371.99" r="1.9" fill="none" stroke="#1c16c8" stroke-width="1.3"/>
<circle cx="143.60" cy="372.04" r="1.9" fill="none" stroke="#1c16c8" stroke-width="1.3"/>
<circle cx="145.80" cy="373.17" r="1.9" fill="none" stroke="#1c16c8" stroke-width="1.3"/>
<circle cx="148.00" cy="373.06" r="1.9" fill="none" stroke="#1c16c8" stroke-width="1.3"/>
<circle cx="150.20" cy="373.60" r="1.9" fill="none" stroke="#1c16c8" stroke-width="1.3"/>
<circle cx="152.40" cy="374.04" r="1.9" fill="none" stroke="#1c16c8" stroke-width="1.3"/>
<circle cx="154.60" cy="374.16" r="1.9" fill="none" stroke="#1c16c8" stroke-width="1.3"/>
<circle cx="156.80" cy="374.64" r="1.9" fill="none" stroke="#1c16c8" stroke-width="1.3"/>
<circle cx="159.00" cy="374.39" r="1.9" fill="none" stroke="#1c16c8" stroke-width="1.3"/>
<circle cx="161.20" cy="375.06" r="1.9" fill="none" stroke="#1c16c8" stroke-width="1.3"/>
<circle cx="163.40" cy="374.96" r="1.9" fill="none" stroke="#1c16c8" stroke-width="1.3"/>
<circle cx="165.60" cy="375.71" r="1.9" fill="none" stroke="#1c16c8" stroke-width="1.3"/>
<circle cx="167.80" cy="375.91" r="1.9" fill="none" stroke="#1c16c8" stroke-width="1.3"/>
<circle cx="170.00" cy="375.36" r="1.9" fill="none" stroke="#1c16c8" stroke-width="1.3"/>
<circle cx="170.50" cy="375.52" r="1.9" fill="none" stroke="#1c16c8" stroke-width="1.1"/>
<circle cx="173.40" cy="375.83" r="1.9" fill="none" stroke="#1c16c8" stroke-width="1.1"/>
<circle cx="176.50" cy="376.13" r="1.9" fill="none" stroke="#1c16c8" stroke-width="1.1"/>
<circle cx="179.00" cy="376.35" r="1.9" fill="none" stroke="#1c16c8" stroke-width="1.1"/>
<circle cx="181.50" cy="376.57" r="1.9" fill="none" stroke="#1c16c8" stroke-width="1.1"/>
<circle cx="183.30" cy="376.71" r="1.9" fill="none" stroke="#1c16c8" stroke-width="1.1"/>
<circle cx="186.00" cy="376.83" r="1.9" fill="none" stroke="#1c16c8" stroke-width="1.1"/>
<circle cx="188.50" cy="376.94" r="1.9" fill="none" stroke="#1c16c8" stroke-width="1.1"/>
<circle cx="191.40" cy="377.07" r="1.9" fill="none" stroke="#1c16c8" stroke-width="1.1"/>
<circle cx="194.90" cy="377.22" r="1.9" fill="none" stroke="#1c16c8" stroke-width="1.1"/>
<circle cx="199.00" cy="377.38" r="1.9" fill="none" stroke="#1c16c8" stroke-width="1.1"/>
<circle cx="206.60" cy="377.68" r="1.9" fill="none" stroke="#1c16c8" stroke-width="1.1"/>
<circle cx="222.90" cy="378.00" r="1.9" fill="none" stroke="#1c16c8" stroke-width="1.1"/>
<text x="153.2" y="246.3" font-size="11.5" font-weight="bold" text-anchor="end" fill="#1c16c8" >1A</text>
<text x="154.0" y="250.2" font-size="7.2" font-weight="bold" text-anchor="start" fill="#1c16c8" >393</text>
<text x="153.1" y="262.4" font-size="11.7" font-weight="bold" text-anchor="middle" fill="#000" >1.8±0.08 s</text>
<text x="152.8" y="289.3" font-size="11.7" font-weight="bold" text-anchor="middle" fill="#c38ddf" >1A-K1L12</text>
<text x="153.1" y="303.5" font-size="11.7" font-weight="bold" text-anchor="middle" fill="#000" >0.3±0.03 s</text>
<line x1="280.70" y1="213.30" x2="280.70" y2="379.10" stroke="#000" stroke-width="1.6" />
<line x1="279.90" y1="378.30" x2="478.50" y2="378.30" stroke="#000" stroke-width="1.6" />
<line x1="277.70" y1="377.80" x2="280.70" y2="377.80" stroke="#000" stroke-width="1.3" />
<text x="274.4" y="381.65000000000003" font-size="11.3" text-anchor="end" fill="#000" >0</text>
<line x1="277.70" y1="345.08" x2="280.70" y2="345.08" stroke="#000" stroke-width="1.3" />
<text x="274.4" y="352.35" font-size="11.3" text-anchor="end" fill="#000" >0.2</text>
<line x1="277.70" y1="312.36" x2="280.70" y2="312.36" stroke="#000" stroke-width="1.3" />
<text x="274.4" y="319.75" font-size="11.3" text-anchor="end" fill="#000" >0.4</text>
<line x1="277.70" y1="279.64" x2="280.70" y2="279.64" stroke="#000" stroke-width="1.3" />
<text x="274.4" y="284.75" font-size="11.3" text-anchor="end" fill="#000" >0.6</text>
<line x1="277.70" y1="246.92" x2="280.70" y2="246.92" stroke="#000" stroke-width="1.3" />
<text x="274.4" y="252.05" font-size="11.3" text-anchor="end" fill="#000" >0.8</text>
<line x1="277.70" y1="214.20" x2="280.70" y2="214.20" stroke="#000" stroke-width="1.3" />
<text x="274.4" y="218.35000000000002" font-size="11.3" text-anchor="end" fill="#000" >1.0</text>
<line x1="280.70" y1="378.30" x2="280.70" y2="381.30" stroke="#000" stroke-width="1.3" />
<text x="280.7" y="392.4" font-size="11.3" text-anchor="middle" fill="#000" >0</text>
<line x1="330.10" y1="378.30" x2="330.10" y2="381.30" stroke="#000" stroke-width="1.3" />
<text x="330.09999999999997" y="392.4" font-size="11.3" text-anchor="middle" fill="#000" >2</text>
<line x1="379.50" y1="378.30" x2="379.50" y2="381.30" stroke="#000" stroke-width="1.3" />
<text x="379.5" y="392.4" font-size="11.3" text-anchor="middle" fill="#000" >4</text>
<line x1="428.90" y1="378.30" x2="428.90" y2="381.30" stroke="#000" stroke-width="1.3" />
<text x="428.9" y="392.4" font-size="11.3" text-anchor="middle" fill="#000" >6</text>
<line x1="478.30" y1="378.30" x2="478.30" y2="381.30" stroke="#000" stroke-width="1.3" />
<text x="478.29999999999995" y="392.4" font-size="11.3" text-anchor="middle" fill="#000" >8</text>
<text x="383.2" y="408.6" font-size="12.1" text-anchor="middle" fill="#000" >Dwell Time in ADP (s)</text>
<text x="0" y="0" font-size="12" text-anchor="middle" fill="#000" transform="translate(254.4,301.2) rotate(-90)">1-cdf</text>
<path d="M288.30,213.50 C288.70,215.00 290.00,218.57 290.70,222.50 C291.40,226.43 291.77,232.25 292.50,237.10 C293.23,241.95 294.25,246.75 295.10,251.60 C295.95,256.45 297.18,263.77 297.60,266.20" stroke="#f41c77" stroke-width="2.0" fill="none" stroke-linecap="round" stroke-linejoin="round"/>
<path d="M297.60,266.20 C298.20,268.50 299.95,275.60 301.20,280.00 C302.45,284.40 303.93,288.40 305.10,292.60 C306.27,296.80 306.83,300.88 308.20,305.20 C309.57,309.52 311.68,314.42 313.30,318.50 C314.92,322.58 316.35,326.43 317.90,329.70 C319.45,332.97 320.92,335.70 322.60,338.10 C324.28,340.50 325.98,342.08 328.00,344.10 C330.02,346.12 332.35,348.23 334.70,350.20 C337.05,352.17 339.85,354.45 342.10,355.90 C344.35,357.35 347.18,358.40 348.20,358.90" stroke="#f41c77" stroke-width="4.2" fill="none" stroke-linecap="round" stroke-linejoin="round"/>
<path d="M288.30,213.50 C288.48,215.00 288.82,218.57 289.40,222.50 C289.98,226.43 291.12,232.25 291.80,237.10 C292.48,241.95 292.97,246.75 293.50,251.60 C294.03,256.45 294.28,261.47 295.00,266.20 C295.72,270.93 296.95,275.60 297.80,280.00 C298.65,284.40 299.30,288.40 300.10,292.60 C300.90,296.80 301.57,300.88 302.60,305.20 C303.63,309.52 305.00,314.42 306.30,318.50 C307.60,322.58 308.90,326.43 310.40,329.70 C311.90,332.97 313.47,335.70 315.30,338.10 C317.13,340.50 319.18,342.08 321.40,344.10 C323.62,346.12 326.15,348.28 328.60,350.20 C331.05,352.12 333.85,354.30 336.10,355.60 C338.35,356.90 340.08,357.18 342.10,358.00 C344.12,358.82 347.18,360.08 348.20,360.50" stroke="#6512ac" stroke-width="4.2" fill="none" stroke-linecap="round" stroke-linejoin="round"/>
<path d="M288.30,213.50 C288.70,215.00 290.00,218.57 290.70,222.50 C291.40,226.43 291.77,232.25 292.50,237.10 C293.23,241.95 294.25,246.75 295.10,251.60 C295.95,256.45 297.18,263.77 297.60,266.20" stroke="#f41c77" stroke-width="1.6" fill="none" stroke-linecap="round"/>
<circle cx="293.25" cy="251.11" r="0.6" fill="#fff" opacity="0.55"/>
<circle cx="294.06" cy="254.38" r="0.6" fill="#fff" opacity="0.55"/>
<circle cx="294.25" cy="258.18" r="0.6" fill="#fff" opacity="0.55"/>
<circle cx="293.92" cy="261.76" r="0.6" fill="#fff" opacity="0.55"/>
<circle cx="294.24" cy="265.04" r="0.6" fill="#fff" opacity="0.55"/>
<circle cx="294.86" cy="267.90" r="0.6" fill="#fff" opacity="0.55"/>
<circle cx="296.03" cy="272.27" r="0.6" fill="#fff" opacity="0.55"/>
<circle cx="296.29" cy="274.75" r="0.6" fill="#fff" opacity="0.55"/>
<circle cx="297.67" cy="279.10" r="0.6" fill="#fff" opacity="0.55"/>
<circle cx="298.24" cy="281.67" r="0.6" fill="#fff" opacity="0.55"/>
<circle cx="299.41" cy="284.52" r="0.6" fill="#fff" opacity="0.55"/>
<circle cx="299.85" cy="288.21" r="0.6" fill="#fff" opacity="0.55"/>
<circle cx="299.46" cy="291.31" r="0.6" fill="#fff" opacity="0.55"/>
<circle cx="300.34" cy="295.63" r="0.6" fill="#fff" opacity="0.55"/>
<circle cx="300.83" cy="298.63" r="0.6" fill="#fff" opacity="0.55"/>
<circle cx="302.13" cy="301.67" r="0.6" fill="#fff" opacity="0.55"/>
<circle cx="302.66" cy="304.58" r="0.6" fill="#fff" opacity="0.55"/>
<circle cx="302.89" cy="308.05" r="0.6" fill="#fff" opacity="0.55"/>
<circle cx="304.67" cy="311.64" r="0.6" fill="#fff" opacity="0.55"/>
<circle cx="305.07" cy="315.14" r="0.6" fill="#fff" opacity="0.55"/>
<circle cx="306.18" cy="318.01" r="0.6" fill="#fff" opacity="0.55"/>
<circle cx="307.81" cy="321.77" r="0.6" fill="#fff" opacity="0.55"/>
<circle cx="308.20" cy="324.79" r="0.6" fill="#fff" opacity="0.55"/>
<circle cx="309.77" cy="328.40" r="0.6" fill="#fff" opacity="0.55"/>
<circle cx="311.45" cy="330.66" r="0.6" fill="#fff" opacity="0.55"/>
<circle cx="313.52" cy="333.36" r="0.6" fill="#fff" opacity="0.55"/>
<circle cx="314.45" cy="337.19" r="0.6" fill="#fff" opacity="0.55"/>
<circle cx="316.19" cy="339.44" r="0.6" fill="#fff" opacity="0.55"/>
<circle cx="318.46" cy="342.07" r="0.6" fill="#fff" opacity="0.55"/>
<circle cx="321.90" cy="344.32" r="0.6" fill="#fff" opacity="0.55"/>
<circle cx="324.65" cy="346.15" r="0.6" fill="#fff" opacity="0.55"/>
<circle cx="327.00" cy="348.74" r="0.6" fill="#fff" opacity="0.55"/>
<circle cx="329.47" cy="350.69" r="0.6" fill="#fff" opacity="0.55"/>
<circle cx="332.60" cy="353.36" r="0.6" fill="#fff" opacity="0.55"/>
<circle cx="334.84" cy="354.95" r="0.6" fill="#fff" opacity="0.55"/>
<circle cx="337.25" cy="356.59" r="0.6" fill="#fff" opacity="0.55"/>
<circle cx="341.22" cy="358.26" r="0.6" fill="#fff" opacity="0.55"/>
<circle cx="344.62" cy="358.55" r="0.6" fill="#fff" opacity="0.55"/>
<circle cx="347.15" cy="360.37" r="0.6" fill="#fff" opacity="0.55"/>
<circle cx="301.15" cy="279.82" r="0.6" fill="#fff" opacity="0.55"/>
<circle cx="301.70" cy="283.76" r="0.6" fill="#fff" opacity="0.55"/>
<circle cx="302.52" cy="286.50" r="0.6" fill="#fff" opacity="0.55"/>
<circle cx="304.77" cy="289.16" r="0.6" fill="#fff" opacity="0.55"/>
<circle cx="305.27" cy="293.16" r="0.6" fill="#fff" opacity="0.55"/>
<circle cx="305.37" cy="296.13" r="0.6" fill="#fff" opacity="0.55"/>
<circle cx="307.11" cy="299.53" r="0.6" fill="#fff" opacity="0.55"/>
<circle cx="307.95" cy="302.42" r="0.6" fill="#fff" opacity="0.55"/>
<circle cx="308.20" cy="305.62" r="0.6" fill="#fff" opacity="0.55"/>
<circle cx="309.80" cy="309.93" r="0.6" fill="#fff" opacity="0.55"/>
<circle cx="311.13" cy="312.90" r="0.6" fill="#fff" opacity="0.55"/>
<circle cx="312.06" cy="316.03" r="0.6" fill="#fff" opacity="0.55"/>
<circle cx="312.89" cy="318.57" r="0.6" fill="#fff" opacity="0.55"/>
<circle cx="314.98" cy="322.32" r="0.6" fill="#fff" opacity="0.55"/>
<circle cx="315.92" cy="324.57" r="0.6" fill="#fff" opacity="0.55"/>
<circle cx="317.00" cy="327.89" r="0.6" fill="#fff" opacity="0.55"/>
<circle cx="318.51" cy="331.78" r="0.6" fill="#fff" opacity="0.55"/>
<circle cx="320.06" cy="334.85" r="0.6" fill="#fff" opacity="0.55"/>
<circle cx="322.67" cy="336.65" r="0.6" fill="#fff" opacity="0.55"/>
<circle cx="324.07" cy="339.91" r="0.6" fill="#fff" opacity="0.55"/>
<circle cx="325.85" cy="342.35" r="0.6" fill="#fff" opacity="0.55"/>
<circle cx="329.44" cy="344.35" r="0.6" fill="#fff" opacity="0.55"/>
<circle cx="331.53" cy="346.66" r="0.6" fill="#fff" opacity="0.55"/>
<circle cx="334.01" cy="350.03" r="0.6" fill="#fff" opacity="0.55"/>
<circle cx="336.13" cy="350.93" r="0.6" fill="#fff" opacity="0.55"/>
<circle cx="338.65" cy="353.75" r="0.6" fill="#fff" opacity="0.55"/>
<circle cx="341.25" cy="355.19" r="0.6" fill="#fff" opacity="0.55"/>
<circle cx="344.95" cy="357.89" r="0.6" fill="#fff" opacity="0.55"/>
<circle cx="347.90" cy="358.66" r="0.6" fill="#fff" opacity="0.55"/>
<path d="M334.70,350.20 C335.93,351.15 339.85,354.45 342.10,355.90 C344.35,357.35 346.18,358.00 348.20,358.90 C350.22,359.80 352.23,360.40 354.20,361.30 C356.17,362.20 357.37,363.38 360.00,364.30 C362.63,365.22 366.67,366.05 370.00,366.80 C373.33,367.55 375.00,368.05 380.00,368.80 C385.00,369.55 393.33,370.52 400.00,371.30 C406.67,372.08 413.33,372.90 420.00,373.50 C426.67,374.10 433.33,374.53 440.00,374.90 C446.67,375.27 453.63,375.48 460.00,375.70 C466.37,375.92 475.17,376.12 478.20,376.20" stroke="#f41c77" stroke-width="1.8" fill="none" />
<path d="M336.10,355.60 C337.10,356.00 340.08,357.18 342.10,358.00 C344.12,358.82 346.18,359.73 348.20,360.50 C350.22,361.27 352.23,361.83 354.20,362.60 C356.17,363.37 357.37,364.42 360.00,365.10 C362.63,365.78 366.67,366.22 370.00,366.70 C373.33,367.18 375.00,367.50 380.00,368.00 C385.00,368.50 393.33,369.10 400.00,369.70 C406.67,370.30 413.33,371.02 420.00,371.60 C426.67,372.18 433.33,372.78 440.00,373.20 C446.67,373.62 453.63,373.85 460.00,374.10 C466.37,374.35 475.17,374.60 478.20,374.70" stroke="#6512ac" stroke-width="1.8" fill="none" />
<circle cx="343.9" cy="354.4" r="2" fill="none" stroke="#f41c77" stroke-width="1" opacity="0.8"/>
<circle cx="347.6" cy="356.5" r="2" fill="none" stroke="#f41c77" stroke-width="1" opacity="0.8"/>
<circle cx="351.8" cy="357.7" r="2" fill="none" stroke="#f41c77" stroke-width="1" opacity="0.8"/>
<circle cx="356" cy="359" r="2" fill="none" stroke="#f41c77" stroke-width="1" opacity="0.8"/>
<circle cx="360.3" cy="359.5" r="2" fill="none" stroke="#f41c77" stroke-width="1" opacity="0.8"/>
<circle cx="364" cy="361" r="2" fill="none" stroke="#f41c77" stroke-width="1" opacity="0.8"/>
<circle cx="367.6" cy="362" r="2" fill="none" stroke="#f41c77" stroke-width="1" opacity="0.8"/>
<circle cx="372" cy="364" r="2" fill="none" stroke="#f41c77" stroke-width="1" opacity="0.8"/>
<circle cx="378" cy="365.5" r="2" fill="none" stroke="#f41c77" stroke-width="1" opacity="0.8"/>
<circle cx="380" cy="370" r="2" fill="none" stroke="#f41c77" stroke-width="1" opacity="0.8"/>
<circle cx="391" cy="373" r="2" fill="none" stroke="#f41c77" stroke-width="1" opacity="0.8"/>
<circle cx="398" cy="374.3" r="2" fill="none" stroke="#f41c77" stroke-width="1" opacity="0.8"/>
<circle cx="409" cy="375.5" r="2" fill="none" stroke="#f41c77" stroke-width="1" opacity="0.8"/>
<circle cx="414" cy="377" r="2" fill="none" stroke="#f41c77" stroke-width="1" opacity="0.8"/>
<circle cx="420" cy="376" r="2" fill="none" stroke="#f41c77" stroke-width="1" opacity="0.8"/>
<circle cx="433" cy="376" r="2" fill="none" stroke="#f41c77" stroke-width="1" opacity="0.8"/>
<circle cx="440" cy="377" r="2" fill="none" stroke="#f41c77" stroke-width="1" opacity="0.8"/>
<circle cx="446" cy="376.5" r="2" fill="none" stroke="#f41c77" stroke-width="1" opacity="0.8"/>
<circle cx="352" cy="361.5" r="2" fill="none" stroke="#6512ac" stroke-width="1" opacity="0.8"/>
<circle cx="356" cy="362.5" r="2" fill="none" stroke="#6512ac" stroke-width="1" opacity="0.8"/>
<circle cx="362" cy="363.8" r="2" fill="none" stroke="#6512ac" stroke-width="1" opacity="0.8"/>
<circle cx="367.5" cy="365" r="2" fill="none" stroke="#6512ac" stroke-width="1" opacity="0.8"/>
<circle cx="374" cy="365.5" r="2" fill="none" stroke="#6512ac" stroke-width="1" opacity="0.8"/>
<circle cx="373" cy="368.5" r="2" fill="none" stroke="#6512ac" stroke-width="1" opacity="0.8"/>
<circle cx="395" cy="367.8" r="2" fill="none" stroke="#6512ac" stroke-width="1" opacity="0.8"/>
<circle cx="398" cy="369" r="2" fill="none" stroke="#6512ac" stroke-width="1" opacity="0.8"/>
<circle cx="398" cy="373" r="2" fill="none" stroke="#6512ac" stroke-width="1" opacity="0.8"/>
<circle cx="405" cy="374" r="2" fill="none" stroke="#6512ac" stroke-width="1" opacity="0.8"/>
<circle cx="408" cy="373.4" r="2" fill="none" stroke="#6512ac" stroke-width="1" opacity="0.8"/>
<circle cx="440" cy="377" r="2" fill="none" stroke="#6512ac" stroke-width="1" opacity="0.8"/>
<circle cx="447" cy="377.5" r="2" fill="none" stroke="#6512ac" stroke-width="1" opacity="0.8"/>
<circle cx="468" cy="377" r="2" fill="none" stroke="#6512ac" stroke-width="1" opacity="0.8"/>
<text x="404.2" y="247.3" font-size="11.5" font-weight="bold" text-anchor="middle" fill="#f41c77" >Kin1</text>
<text x="404.5" y="261.4" font-size="11.7" font-weight="bold" text-anchor="middle" fill="#000" >1.5±0.1 s</text>
<text x="404.5" y="289.5" font-size="11.7" font-weight="bold" text-anchor="middle" fill="#6512ac" >Kin1-1AL12</text>
<text x="404.5" y="302.9" font-size="11.7" font-weight="bold" text-anchor="middle" fill="#000" >1.4±0.1 s</text>
<line x1="526.40" y1="211.50" x2="526.40" y2="379.80" stroke="#000" stroke-width="1.6" />
<line x1="525.60" y1="379.00" x2="727.60" y2="379.00" stroke="#000" stroke-width="1.6" />
<line x1="523.40" y1="377.50" x2="526.40" y2="377.50" stroke="#000" stroke-width="1.2" />
<line x1="524.40" y1="368.37" x2="526.40" y2="368.37" stroke="#000" stroke-width="1.2" />
<line x1="524.40" y1="359.23" x2="526.40" y2="359.23" stroke="#000" stroke-width="1.2" />
<line x1="524.40" y1="350.10" x2="526.40" y2="350.10" stroke="#000" stroke-width="1.2" />
<line x1="524.40" y1="340.97" x2="526.40" y2="340.97" stroke="#000" stroke-width="1.2" />
<line x1="523.40" y1="331.83" x2="526.40" y2="331.83" stroke="#000" stroke-width="1.2" />
<line x1="524.40" y1="322.70" x2="526.40" y2="322.70" stroke="#000" stroke-width="1.2" />
<line x1="524.40" y1="313.57" x2="526.40" y2="313.57" stroke="#000" stroke-width="1.2" />
<line x1="524.40" y1="304.44" x2="526.40" y2="304.44" stroke="#000" stroke-width="1.2" />
<line x1="524.40" y1="295.30" x2="526.40" y2="295.30" stroke="#000" stroke-width="1.2" />
<line x1="523.40" y1="286.17" x2="526.40" y2="286.17" stroke="#000" stroke-width="1.2" />
<line x1="524.40" y1="277.04" x2="526.40" y2="277.04" stroke="#000" stroke-width="1.2" />
<line x1="524.40" y1="267.90" x2="526.40" y2="267.90" stroke="#000" stroke-width="1.2" />
<line x1="524.40" y1="258.77" x2="526.40" y2="258.77" stroke="#000" stroke-width="1.2" />
<line x1="524.40" y1="249.64" x2="526.40" y2="249.64" stroke="#000" stroke-width="1.2" />
<line x1="523.40" y1="240.50" x2="526.40" y2="240.50" stroke="#000" stroke-width="1.2" />
<line x1="524.40" y1="231.37" x2="526.40" y2="231.37" stroke="#000" stroke-width="1.2" />
<line x1="524.40" y1="222.24" x2="526.40" y2="222.24" stroke="#000" stroke-width="1.2" />
<line x1="524.40" y1="213.11" x2="526.40" y2="213.11" stroke="#000" stroke-width="1.2" />
<text x="521.9" y="381.45" font-size="11.3" text-anchor="end" fill="#000" >0</text>
<text x="521.9" y="336.05" font-size="11.3" text-anchor="end" fill="#000" >50</text>
<text x="521.9" y="289.95" font-size="11.3" text-anchor="end" fill="#000" >100</text>
<text x="521.9" y="244.25" font-size="11.3" text-anchor="end" fill="#000" >150</text>
<line x1="526.40" y1="379.00" x2="526.40" y2="382.00" stroke="#000" stroke-width="1.2" />
<line x1="566.50" y1="379.00" x2="566.50" y2="382.00" stroke="#000" stroke-width="1.2" />
<line x1="606.60" y1="379.00" x2="606.60" y2="382.00" stroke="#000" stroke-width="1.2" />
<line x1="646.70" y1="379.00" x2="646.70" y2="382.00" stroke="#000" stroke-width="1.2" />
<line x1="686.80" y1="379.00" x2="686.80" y2="382.00" stroke="#000" stroke-width="1.2" />
<line x1="726.90" y1="379.00" x2="726.90" y2="382.00" stroke="#000" stroke-width="1.2" />
<text x="527.5" y="393.2" font-size="11.3" text-anchor="middle" fill="#000" >0</text>
<text x="564.6" y="393.2" font-size="11.3" text-anchor="middle" fill="#000" >200</text>
<text x="600.6" y="393.2" font-size="11.3" text-anchor="middle" fill="#000" >400</text>
<text x="637.2" y="393.2" font-size="11.3" text-anchor="middle" fill="#000" >600</text>
<text x="673.7" y="393.2" font-size="11.3" text-anchor="middle" fill="#000" >800</text>
<text x="710.5" y="393.2" font-size="11.3" text-anchor="middle" fill="#000" >1000</text>
<text x="622.4" y="408.6" font-size="12" text-anchor="middle" fill="#000" >[ATP] (μM)</text>
<text transform="translate(498.4,302.2) rotate(-90)" font-size="11.9" text-anchor="middle" fill="#000">Rate (s<tspan font-size="7.5" dy="-4.2">-1</tspan><tspan dy="4.2">)</tspan></text>
<path d="M526.40,377.50 L527.65,368.70 L528.91,360.84 L530.16,353.78 L531.41,347.41 L532.67,341.63 L533.92,336.35 L535.17,331.53 L536.42,327.09 L537.68,323.00 L538.93,319.22 L540.18,315.71 L541.44,312.45 L542.69,309.40 L543.94,306.56 L545.20,303.89 L546.45,301.39 L547.70,299.04 L548.96,296.82 L550.21,294.73 L551.46,292.75 L552.72,290.88 L553.97,289.10 L555.22,287.41 L556.48,285.81 L557.73,284.28 L558.98,282.83 L560.23,281.44 L561.49,280.11 L562.74,278.85 L563.99,277.63 L565.25,276.47 L566.50,275.35 L567.75,274.28 L569.01,273.26 L570.26,272.27 L571.51,271.32 L572.77,270.40 L574.02,269.52 L575.27,268.67 L576.52,267.85 L577.78,267.06 L579.03,266.30 L580.28,265.56 L581.54,264.84 L582.79,264.15 L584.04,263.48 L585.30,262.84 L586.55,262.21 L587.80,261.60 L589.06,261.01 L590.31,260.43 L591.56,259.88 L592.82,259.34 L594.07,258.81 L595.32,258.30 L596.57,257.81 L597.83,257.32 L599.08,256.85 L600.33,256.39 L601.59,255.95 L602.84,255.51 L604.09,255.09 L605.35,254.68 L606.60,254.28 L607.85,253.88 L609.11,253.50 L610.36,253.13 L611.61,252.76 L612.87,252.41 L614.12,252.06 L615.37,251.72 L616.62,251.39 L617.88,251.06 L619.13,250.74 L620.38,250.43 L621.64,250.13 L622.89,249.83 L624.14,249.54 L625.40,249.25 L626.65,248.97 L627.90,248.70 L629.16,248.43 L630.41,248.17 L631.66,247.91 L632.92,247.66 L634.17,247.41 L635.42,247.17 L636.67,246.93 L637.93,246.70 L639.18,246.47 L640.43,246.24 L641.69,246.02 L642.94,245.80 L644.19,245.59 L645.45,245.38 L646.70,245.18 L647.95,244.97 L649.21,244.78 L650.46,244.58 L651.71,244.39 L652.97,244.20 L654.22,244.02 L655.47,243.83 L656.73,243.65 L657.98,243.48 L659.23,243.31 L660.48,243.13 L661.74,242.97 L662.99,242.80 L664.24,242.64 L665.50,242.48 L666.75,242.32 L668.00,242.17 L669.26,242.02 L670.51,241.86 L671.76,241.72 L673.02,241.57 L674.27,241.43 L675.52,241.29 L676.77,241.15 L678.03,241.01 L679.28,240.87 L680.53,240.74 L681.79,240.61 L683.04,240.48 L684.29,240.35 L685.55,240.23 L686.80,240.10 L688.05,239.98 L689.31,239.86 L690.56,239.74 L691.81,239.62 L693.07,239.50 L694.32,239.39 L695.57,239.28 L696.83,239.16 L698.08,239.05 L699.33,238.95 L700.58,238.84 L701.84,238.73 L703.09,238.63 L704.34,238.52 L705.60,238.42 L706.85,238.32 L708.10,238.22 L709.36,238.12 L710.61,238.03 L711.86,237.93 L713.12,237.84 L714.37,237.74 L715.62,237.65 L716.88,237.56 L718.13,237.47 L719.38,237.38 L720.63,237.29 L721.89,237.20 L723.14,237.12 L724.39,237.03 L725.65,236.95 L726.90,236.87" stroke="#222" stroke-width="1.7" fill="none" />
<path d="M526.40,377.50 L527.65,368.13 L528.91,359.95 L530.16,352.72 L531.41,346.31 L532.67,340.57 L533.92,335.41 L535.17,330.74 L536.42,326.50 L537.68,322.63 L538.93,319.08 L540.18,315.82 L541.44,312.81 L542.69,310.02 L543.94,307.43 L545.20,305.02 L546.45,302.78 L547.70,300.67 L548.96,298.70 L550.21,296.85 L551.46,295.11 L552.72,293.47 L553.97,291.92 L555.22,290.45 L556.48,289.06 L557.73,287.74 L558.98,286.49 L560.23,285.30 L561.49,284.17 L562.74,283.08 L563.99,282.05 L565.25,281.07 L566.50,280.12 L567.75,279.22 L569.01,278.36 L570.26,277.53 L571.51,276.73 L572.77,275.96 L574.02,275.23 L575.27,274.52 L576.52,273.84 L577.78,273.18 L579.03,272.55 L580.28,271.94 L581.54,271.35 L582.79,270.78 L584.04,270.23 L585.30,269.69 L586.55,269.18 L587.80,268.68 L589.06,268.20 L590.31,267.73 L591.56,267.27 L592.82,266.83 L594.07,266.40 L595.32,265.99 L596.57,265.58 L597.83,265.19 L599.08,264.81 L600.33,264.44 L601.59,264.08 L602.84,263.73 L604.09,263.39 L605.35,263.05 L606.60,262.73 L607.85,262.41 L609.11,262.10 L610.36,261.80 L611.61,261.51 L612.87,261.22 L614.12,260.94 L615.37,260.67 L616.62,260.40 L617.88,260.14 L619.13,259.89 L620.38,259.64 L621.64,259.40 L622.89,259.16 L624.14,258.93 L625.40,258.70 L626.65,258.48 L627.90,258.26 L629.16,258.04 L630.41,257.83 L631.66,257.63 L632.92,257.43 L634.17,257.23 L635.42,257.04 L636.67,256.85 L637.93,256.66 L639.18,256.48 L640.43,256.30 L641.69,256.13 L642.94,255.96 L644.19,255.79 L645.45,255.62 L646.70,255.46 L647.95,255.30 L649.21,255.14 L650.46,254.99 L651.71,254.84 L652.97,254.69 L654.22,254.54 L655.47,254.40 L656.73,254.26 L657.98,254.12 L659.23,253.99 L660.48,253.85 L661.74,253.72 L662.99,253.59 L664.24,253.46 L665.50,253.34 L666.75,253.21 L668.00,253.09 L669.26,252.97 L670.51,252.85 L671.76,252.74 L673.02,252.62 L674.27,252.51 L675.52,252.40 L676.77,252.29 L678.03,252.18 L679.28,252.08 L680.53,251.97 L681.79,251.87 L683.04,251.77 L684.29,251.67 L685.55,251.57 L686.80,251.47 L688.05,251.37 L689.31,251.28 L690.56,251.19 L691.81,251.10 L693.07,251.00 L694.32,250.91 L695.57,250.83 L696.83,250.74 L698.08,250.65 L699.33,250.57 L700.58,250.48 L701.84,250.40 L703.09,250.32 L704.34,250.24 L705.60,250.16 L706.85,250.08 L708.10,250.00 L709.36,249.93 L710.61,249.85 L711.86,249.78 L713.12,249.70 L714.37,249.63 L715.62,249.56 L716.88,249.49 L718.13,249.42 L719.38,249.35 L720.63,249.28 L721.89,249.21 L723.14,249.15 L724.39,249.08 L725.65,249.01 L726.90,248.95" stroke="#1c16c8" stroke-width="1.7" fill="none" />
<path d="M526.40,377.50 L527.65,366.69 L528.91,357.88 L530.16,350.57 L531.41,344.39 L532.67,339.11 L533.92,334.55 L535.17,330.56 L536.42,327.05 L537.68,323.93 L538.93,321.15 L540.18,318.64 L541.44,316.38 L542.69,314.32 L543.94,312.45 L545.20,310.73 L546.45,309.15 L547.70,307.69 L548.96,306.34 L550.21,305.09 L551.46,303.93 L552.72,302.84 L553.97,301.83 L555.22,300.87 L556.48,299.98 L557.73,299.14 L558.98,298.35 L560.23,297.60 L561.49,296.89 L562.74,296.22 L563.99,295.59 L565.25,294.98 L566.50,294.41 L567.75,293.86 L569.01,293.34 L570.26,292.84 L571.51,292.37 L572.77,291.91 L574.02,291.48 L575.27,291.06 L576.52,290.66 L577.78,290.28 L579.03,289.91 L580.28,289.56 L581.54,289.21 L582.79,288.89 L584.04,288.57 L585.30,288.27 L586.55,287.97 L587.80,287.69 L589.06,287.41 L590.31,287.15 L591.56,286.89 L592.82,286.64 L594.07,286.40 L595.32,286.17 L596.57,285.94 L597.83,285.73 L599.08,285.51 L600.33,285.31 L601.59,285.11 L602.84,284.91 L604.09,284.73 L605.35,284.54 L606.60,284.36 L607.85,284.19 L609.11,284.02 L610.36,283.86 L611.61,283.70 L612.87,283.54 L614.12,283.39 L615.37,283.24 L616.62,283.10 L617.88,282.95 L619.13,282.82 L620.38,282.68 L621.64,282.55 L622.89,282.42 L624.14,282.30 L625.40,282.18 L626.65,282.06 L627.90,281.94 L629.16,281.82 L630.41,281.71 L631.66,281.60 L632.92,281.50 L634.17,281.39 L635.42,281.29 L636.67,281.19 L637.93,281.09 L639.18,280.99 L640.43,280.90 L641.69,280.81 L642.94,280.72 L644.19,280.63 L645.45,280.54 L646.70,280.45 L647.95,280.37 L649.21,280.29 L650.46,280.21 L651.71,280.13 L652.97,280.05 L654.22,279.97 L655.47,279.90 L656.73,279.82 L657.98,279.75 L659.23,279.68 L660.48,279.61 L661.74,279.54 L662.99,279.47 L664.24,279.40 L665.50,279.34 L666.75,279.27 L668.00,279.21 L669.26,279.15 L670.51,279.09 L671.76,279.03 L673.02,278.97 L674.27,278.91 L675.52,278.85 L676.77,278.80 L678.03,278.74 L679.28,278.68 L680.53,278.63 L681.79,278.58 L683.04,278.53 L684.29,278.47 L685.55,278.42 L686.80,278.37 L688.05,278.32 L689.31,278.27 L690.56,278.23 L691.81,278.18 L693.07,278.13 L694.32,278.09 L695.57,278.04 L696.83,278.00 L698.08,277.95 L699.33,277.91 L700.58,277.87 L701.84,277.82 L703.09,277.78 L704.34,277.74 L705.60,277.70 L706.85,277.66 L708.10,277.62 L709.36,277.58 L710.61,277.54 L711.86,277.50 L713.12,277.47 L714.37,277.43 L715.62,277.39 L716.88,277.36 L718.13,277.32 L719.38,277.28 L720.63,277.25 L721.89,277.21 L723.14,277.18 L724.39,277.15 L725.65,277.11 L726.90,277.08" stroke="#c38ddf" stroke-width="1.7" fill="none" />
<circle cx="546.50" cy="309.40" r="3.4" fill="#222"/>
<line x1="556.80" y1="293.00" x2="556.80" y2="300.00" stroke="#222" stroke-width="1.5" />
<line x1="554.60" y1="293.00" x2="559.00" y2="293.00" stroke="#222" stroke-width="1.5" />
<line x1="554.60" y1="300.00" x2="559.00" y2="300.00" stroke="#222" stroke-width="1.5" />
<circle cx="556.80" cy="295.60" r="3.4" fill="#222"/>
<line x1="576.70" y1="259.60" x2="576.70" y2="268.00" stroke="#222" stroke-width="1.5" />
<line x1="574.50" y1="259.60" x2="578.90" y2="259.60" stroke="#222" stroke-width="1.5" />
<line x1="574.50" y1="268.00" x2="578.90" y2="268.00" stroke="#222" stroke-width="1.5" />
<circle cx="576.70" cy="264.50" r="3.4" fill="#222"/>
<line x1="626.40" y1="246.50" x2="626.40" y2="252.50" stroke="#222" stroke-width="1.5" />
<line x1="624.20" y1="246.50" x2="628.60" y2="246.50" stroke="#222" stroke-width="1.5" />
<line x1="624.20" y1="252.50" x2="628.60" y2="252.50" stroke="#222" stroke-width="1.5" />
<circle cx="626.40" cy="249.50" r="3.4" fill="#222"/>
<line x1="676.80" y1="241.50" x2="676.80" y2="249.00" stroke="#222" stroke-width="1.5" />
<line x1="674.60" y1="241.50" x2="679.00" y2="241.50" stroke="#222" stroke-width="1.5" />
<line x1="674.60" y1="249.00" x2="679.00" y2="249.00" stroke="#222" stroke-width="1.5" />
<circle cx="676.80" cy="245.20" r="3.4" fill="#222"/>
<line x1="606.30" y1="232.30" x2="606.30" y2="250.00" stroke="#222" stroke-width="1.5" />
<line x1="604.10" y1="232.30" x2="608.50" y2="232.30" stroke="#222" stroke-width="1.5" />
<line x1="604.10" y1="250.00" x2="608.50" y2="250.00" stroke="#222" stroke-width="1.5" />
<line x1="556.80" y1="295.00" x2="556.80" y2="313.00" stroke="#1c16c8" stroke-width="1.5" />
<line x1="554.60" y1="295.00" x2="559.00" y2="295.00" stroke="#1c16c8" stroke-width="1.5" />
<line x1="554.60" y1="313.00" x2="559.00" y2="313.00" stroke="#1c16c8" stroke-width="1.5" />
<circle cx="556.80" cy="304.20" r="3.4" fill="#1c16c8"/>
<line x1="576.70" y1="259.00" x2="576.70" y2="284.60" stroke="#1c16c8" stroke-width="1.5" />
<line x1="574.50" y1="259.00" x2="578.90" y2="259.00" stroke="#1c16c8" stroke-width="1.5" />
<line x1="574.50" y1="284.60" x2="578.90" y2="284.60" stroke="#1c16c8" stroke-width="1.5" />
<circle cx="576.70" cy="274.00" r="3.4" fill="#1c16c8"/>
<line x1="606.30" y1="232.30" x2="606.30" y2="263.90" stroke="#1c16c8" stroke-width="1.5" />
<line x1="604.10" y1="232.30" x2="608.50" y2="232.30" stroke="#1c16c8" stroke-width="1.5" />
<line x1="604.10" y1="263.90" x2="608.50" y2="263.90" stroke="#1c16c8" stroke-width="1.5" />
<circle cx="606.30" cy="249.50" r="3.4" fill="#1c16c8"/>
<line x1="626.40" y1="255.00" x2="626.40" y2="289.00" stroke="#1c16c8" stroke-width="1.5" />
<line x1="624.20" y1="255.00" x2="628.60" y2="255.00" stroke="#1c16c8" stroke-width="1.5" />
<line x1="624.20" y1="289.00" x2="628.60" y2="289.00" stroke="#1c16c8" stroke-width="1.5" />
<circle cx="626.40" cy="272.50" r="3.4" fill="#1c16c8"/>
<line x1="646.60" y1="225.60" x2="646.60" y2="249.00" stroke="#1c16c8" stroke-width="1.5" />
<line x1="644.40" y1="225.60" x2="648.80" y2="225.60" stroke="#1c16c8" stroke-width="1.5" />
<line x1="644.40" y1="249.00" x2="648.80" y2="249.00" stroke="#1c16c8" stroke-width="1.5" />
<circle cx="646.60" cy="237.40" r="3.4" fill="#1c16c8"/>
<line x1="676.80" y1="256.00" x2="676.80" y2="291.20" stroke="#1c16c8" stroke-width="1.5" />
<line x1="674.60" y1="256.00" x2="679.00" y2="256.00" stroke="#1c16c8" stroke-width="1.5" />
<line x1="674.60" y1="291.20" x2="679.00" y2="291.20" stroke="#1c16c8" stroke-width="1.5" />
<circle cx="676.80" cy="274.00" r="3.4" fill="#1c16c8"/>
<circle cx="726.60" cy="225.60" r="3.4" fill="#1c16c8"/>
<circle cx="551.00" cy="310.00" r="3.4" fill="#c38ddf"/>
<line x1="576.70" y1="299.00" x2="576.70" y2="305.00" stroke="#c38ddf" stroke-width="1.5" />
<line x1="574.50" y1="299.00" x2="578.90" y2="299.00" stroke="#c38ddf" stroke-width="1.5" />
<line x1="574.50" y1="305.00" x2="578.90" y2="305.00" stroke="#c38ddf" stroke-width="1.5" />
<circle cx="576.70" cy="301.90" r="3.4" fill="#c38ddf"/>
<line x1="606.30" y1="285.00" x2="606.30" y2="303.00" stroke="#c38ddf" stroke-width="1.5" />
<line x1="604.10" y1="285.00" x2="608.50" y2="285.00" stroke="#c38ddf" stroke-width="1.5" />
<line x1="604.10" y1="303.00" x2="608.50" y2="303.00" stroke="#c38ddf" stroke-width="1.5" />
<circle cx="606.30" cy="295.00" r="3.4" fill="#c38ddf"/>
<line x1="626.40" y1="257.00" x2="626.40" y2="283.00" stroke="#c38ddf" stroke-width="1.5" />
<line x1="624.20" y1="257.00" x2="628.60" y2="257.00" stroke="#c38ddf" stroke-width="1.5" />
<line x1="624.20" y1="283.00" x2="628.60" y2="283.00" stroke="#c38ddf" stroke-width="1.5" />
<circle cx="626.40" cy="270.20" r="3.4" fill="#c38ddf"/>
<line x1="686.30" y1="270.50" x2="686.30" y2="286.00" stroke="#c38ddf" stroke-width="1.5" />
<line x1="684.10" y1="270.50" x2="688.50" y2="270.50" stroke="#c38ddf" stroke-width="1.5" />
<line x1="684.10" y1="286.00" x2="688.50" y2="286.00" stroke="#c38ddf" stroke-width="1.5" />
<circle cx="686.30" cy="278.30" r="3.4" fill="#c38ddf"/>
<line x1="726.60" y1="268.00" x2="726.60" y2="274.00" stroke="#c38ddf" stroke-width="1.5" />
<line x1="724.40" y1="268.00" x2="728.80" y2="268.00" stroke="#c38ddf" stroke-width="1.5" />
<line x1="724.40" y1="274.00" x2="728.80" y2="274.00" stroke="#c38ddf" stroke-width="1.5" />
<circle cx="726.60" cy="271.10" r="3.4" fill="#c38ddf"/>
<circle cx="529.50" cy="375.00" r="2.2" fill="#222"/>
<circle cx="531.80" cy="364.20" r="2.2" fill="#222"/>
<circle cx="533.20" cy="350.00" r="2.2" fill="#222"/>
<circle cx="534.40" cy="341.00" r="2.2" fill="#222"/>
<circle cx="537.00" cy="331.00" r="2.2" fill="#222"/>
<circle cx="525.70" cy="365.30" r="3.2" fill="#1c16c8"/>
<circle cx="527.00" cy="359.00" r="3.0" fill="#1c16c8"/>
<circle cx="530.30" cy="356.70" r="3.2" fill="#1c16c8"/>
<circle cx="535.30" cy="333.40" r="3.2" fill="#1c16c8"/>
<circle cx="526.30" cy="372.00" r="3.2" fill="#c38ddf"/>
<circle cx="528.70" cy="360.00" r="3.2" fill="#c38ddf"/>
<circle cx="531.50" cy="344.80" r="3.2" fill="#c38ddf"/>
<circle cx="536.60" cy="327.00" r="3.2" fill="#c38ddf"/>
<text x="683.4" y="330.0" font-size="11.5" font-weight="bold" text-anchor="end" fill="#222" >1A</text>
<text x="683.6" y="334.2" font-size="7.2" font-weight="bold" text-anchor="start" fill="#222" >368</text>
<text x="683.4" y="346.5" font-size="11.5" font-weight="bold" text-anchor="end" fill="#1c16c8" >1A</text>
<text x="683.6" y="350.6" font-size="7.2" font-weight="bold" text-anchor="start" fill="#1c16c8" >393</text>
<text x="682.3" y="365.1" font-size="11.7" font-weight="bold" text-anchor="middle" fill="#c38ddf" >1A-K1L12</text>
</svg>
</body></html>
